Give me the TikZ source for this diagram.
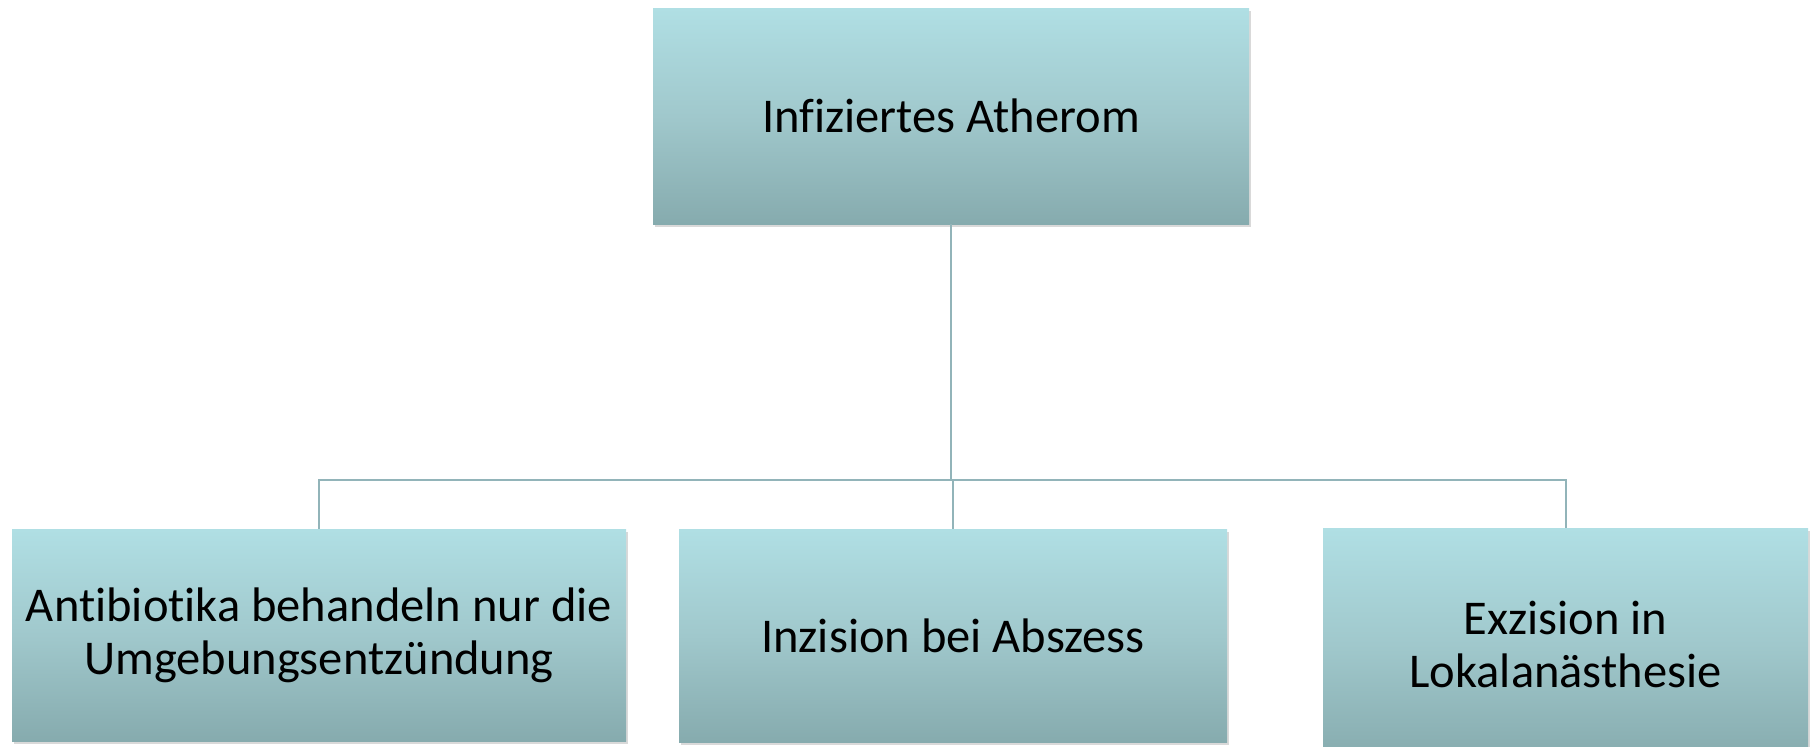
\documentclass[tikz,border=0pt]{standalone}
\usepackage{fontspec}
\setmainfont{Carlito}[Ligatures=NoCommon]
\usetikzlibrary{shadows}
\definecolor{boxtop}{RGB}{176,223,228}
\definecolor{boxmid}{RGB}{160,200,204}
\definecolor{boxbot}{RGB}{134,171,174}
\definecolor{linkcol}{RGB}{146,180,185}
\tikzset{
  orgbox/.style={rectangle, inner sep=0pt, align=center,
    top color=boxtop, bottom color=boxbot, middle color=boxmid,
    drop shadow={shadow xshift=1.5pt, shadow yshift=-3pt, opacity=0.25, fill=black!60},
    font=\fontsize{48.5}{53}\selectfont},
  link/.style={draw=linkcol, line width=2pt}
}
\begin{document}
\begin{tikzpicture}[x=1pt,y=-1pt]
\useasboundingbox (0,0) rectangle (1818,747);
\node[orgbox, minimum width=596pt, minimum height=216pt] (top) at (951,116) {Infiziertes Atherom};
\node[orgbox, minimum width=614pt, minimum height=212pt] (left) at (319,635) {Antibiotika behandeln nur die\\Umgebungsentzündung};
\node[orgbox, minimum width=548pt, minimum height=213pt] (mid) at (953,635.5) {Inzision bei Abszess};
\node[orgbox, minimum width=485pt, minimum height=232pt] (right) at (1565.5,644) {Exzision in\\Lokalanästhesie};
\coordinate (j) at (951,480);
\draw[link] (top.south) -- (j);
\draw[link] (left.north) |- (j);
\draw[link] (right.north) |- (j);
\draw[link] (mid.north) |- (j);
\end{tikzpicture}
\end{document}
